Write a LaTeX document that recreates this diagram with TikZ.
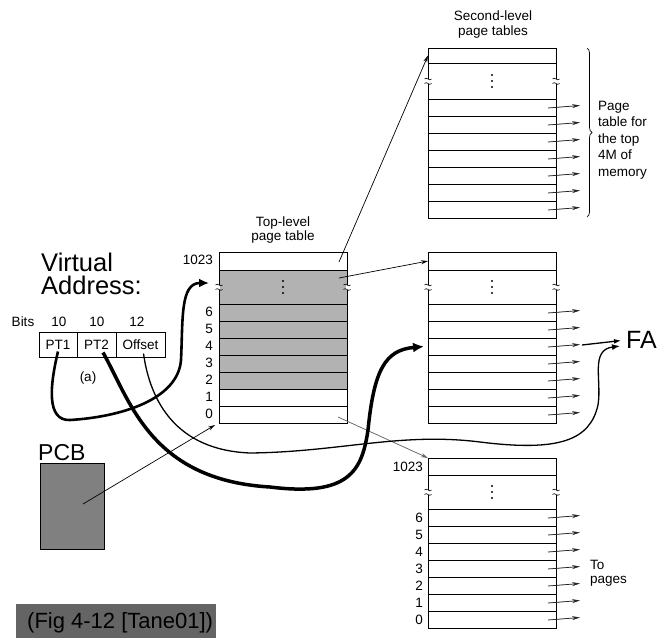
\documentclass[tikz,border=0pt]{standalone}
\usepackage{fontspec}
\setmainfont{Liberation Sans}
\usetikzlibrary{arrows.meta,calc,decorations.pathreplacing}
\definecolor{tgrey}{RGB}{178,178,178}
\definecolor{pcbgrey}{RGB}{128,128,128}
\definecolor{figgrey}{RGB}{100,100,100}
\newcommand\fsz[2]{\fontsize{#1}{#2}\selectfont}
\newcommand\sectable[4]{% #1 name, #2 top y, #3 top row h, #4 dots h
  \node[cell, minimum height=#3pt] (#1-top) at (492,{#2+#3/2}) {};
  \node[cell, minimum height=#4pt] (#1-dots) at (492,{#2+#3+#4/2}) {};
  \foreach \k in {0,...,6} {%
    \pgfmathtruncatemacro\lbl{6-\k}%
    \node[cell, minimum height=17pt] (#1-\lbl) at (492,{#2+#3+#4+8.5+17*\k}) {};
    \draw[rowarrow] ($(#1-\lbl.east)+(-8,0.5)$) -- ($(#1-\lbl.east)+(24,-2)$);
  }
  \foreach \d in {-6,0,6} \fill ($(#1-dots.center)+(0,\d)$) circle (1.1);
  \pic at (#1-dots.west) {brk};
  \pic at (#1-dots.east) {brk};
}
\begin{document}
\begin{tikzpicture}[x=1pt,y=-1pt,
  cell/.style={draw, line width=0.7pt, minimum width=128pt, inner sep=0pt, outer sep=0pt},
  lab/.style={font=\fsz{13.5}{16}, inner sep=0pt},
  rowarrow/.style={-{Stealth[length=8pt,width=4pt]}, line width=0.75pt, draw=black!85, fill=black!85},
  tarrow/.style={-{Stealth[length=7pt,width=4pt]}, line width=0.7pt},
  brk/.pic={
    \fill[white] (-1.2,-2) rectangle (1.2,2.5);
    \draw[line width=0.6pt] (-3.5,-2) .. controls (-1.5,-5) and (1.5,1) .. (3.5,-2);
    \draw[line width=0.6pt] (-3.5,2.5) .. controls (-1.5,-0.5) and (1.5,5.5) .. (3.5,2.5);
  }
]
\useasboundingbox (0,0) rectangle (661,637);

% ---------- top-level page table ----------
\node[cell, minimum height=18pt] (T-top) at (283,261) {};
\node[cell, fill=tgrey, minimum height=34pt] (T-dots) at (283,287) {};
\foreach \i/\y in {6/312.5,5/329.5,4/346.5,3/363.5,2/380.5}
  \node[cell, fill=tgrey, minimum height=17pt] (T-\i) at (283,\y) {};
\foreach \i/\y in {1/397.5,0/414.5}
  \node[cell, minimum height=17pt] (T-\i) at (283,\y) {};
\foreach \d in {-6,0,6} \fill ($(T-dots.center)+(0,\d)$) circle (1.1);
\pic at (T-dots.west) {brk};
\pic at (T-dots.east) {brk};
\node[lab, anchor=east] at ($(T-top.west)+(-6,-1)$) {1023};
\foreach \i in {0,...,6} \node[lab, anchor=east] at ($(T-\i.west)+(-6,-1)$) {\i};
\node[lab, align=center, font=\fsz{13.5}{13.5}] (toplab) at (283,230) {Top-level\\page table};

% ---------- second-level page tables ----------
\sectable{S1}{48}{15}{36}
\sectable{S2}{252}{18}{34}
\sectable{S3}{458}{17}{34}
\node[lab, align=center, font=\fsz{13.5}{15}] (seclab) at (493,25) {Second-level\\page tables};
\draw[decorate, decoration={brace, amplitude=5pt}, line width=0.7pt] (587,48) -- (587,217);
\node[lab, align=left, anchor=west, font=\fsz{13.5}{16.6}] (ptlab) at (598,140) {Page\\table for\\the top\\4M of\\memory};
\node[lab, anchor=east] at ($(S3-top.west)+(-5,0)$) {1023};
\foreach \i in {0,...,6} \node[lab, anchor=east] at ($(S3-\i.west)+(-5,0)$) {\i};
\node[lab, anchor=base west] (topages1) at (590,569) {To};
\node[lab, anchor=base west] (topages2) at (590,583) {pages};

% ---------- virtual address ----------
\node[font=\fsz{25.5}{23}, inner sep=0pt, anchor=base west] (virt) at (41,271) {Virtual};
\node[font=\fsz{25.5}{23}, inner sep=0pt, anchor=base west] (addr) at (41,294) {Address:};
\node[lab, anchor=base] (bits) at (23,326) {Bits};
\node[lab, anchor=base] (b1) at (59,326) {10};
\node[lab, anchor=base] (b2) at (97,326) {10};
\node[lab, anchor=base] (b3) at (137,326) {12};
\node[draw, line width=0.7pt, minimum width=38pt, minimum height=25pt, inner sep=0pt, font=\fsz{13.5}{16}] (PT1) at (58,344.5) {PT1};
\node[draw, line width=0.7pt, minimum width=39pt, minimum height=25pt, inner sep=0pt, font=\fsz{13.5}{16}] (PT2) at (96.5,344.5) {PT2};
\node[draw, line width=0.7pt, minimum width=49pt, minimum height=25pt, inner sep=0pt, font=\fsz{13.5}{16}] (Off) at (140.5,344.5) {Offset};
\node[lab] (alab) at (88,378) {(a)};

% ---------- FA ----------
\node[font=\fsz{25}{25}, inner sep=0pt, anchor=west] (FA) at (626,340) {FA};
\draw[line width=1.3pt, -{Latex[length=7pt,width=5pt]}, shorten >=5pt] ($(S2-4.east)+(26,-1.5)$) -- (FA.west);

% ---------- PCB ----------
\node[font=\fsz{23}{23}, inner sep=0pt, anchor=base west] (pcblab) at (38,460) {PCB};
\node[draw, line width=0.7pt, fill=pcbgrey, minimum width=64pt, minimum height=86pt, inner sep=0pt] (PCB) at (72,506) {};
\draw[tarrow] ($(PCB.center)+(11,-2)$) -- ($(T-0.south west)+(-4,2)$);

% ---------- table to table pointers ----------
\draw[tarrow] ($(T-top.east)+(-8,1)$) -- (S1-top.west);
\draw[tarrow] ($(T-dots.east)+(-8,-9)$) -- (S2-top.west);
\draw[tarrow, draw=black!60, fill=black!60] ($(T-0.east)+(-9,2.5)$) -- (S3-top.north west);

% ---------- curves ----------
\draw[line width=2.6pt, -{Latex[length=10pt,width=9pt]}]
  ($(PT1.center)+(0,7)$) .. controls (50,385) and (46,421) .. (70,420)
  .. controls (120,417) and (178,400) .. (181,360)
  .. controls (183,320) and (180,283) .. ($(T-dots.west)+(-10,-4)$);
\draw[line width=3.5pt, -{Latex[length=11pt,width=10pt]}]
  ($(PT2.center)+(6.5,8)$) .. controls (130,400) and (150,480) .. (270,487)
  .. controls (350,497) and (362,470) .. (368,430)
  .. controls (374,370) and (385,350) .. ($(S2-4.west)+(-4,0)$);
\draw[line width=1.3pt, -{Latex[length=8pt,width=6pt]}]
  ($(Off.center)+(3,9)$) .. controls (150,400) and (175,450) .. (250,453)
  .. controls (340,452) and (400,432) .. (480,442)
  .. controls (560,452) and (590,440) .. (598,405)
  .. controls (602,380) and (590,350) .. ($(FA.west)+(-6,6)$);

% ---------- figure caption ----------
\node[fill=figgrey, anchor=north west, minimum width=200pt, minimum height=34pt, inner sep=0pt] (figbox) at (16,604) {};
\node[font=\fsz{22}{22}, inner sep=0pt, anchor=base west] (figlab) at (27,628) {(Fig 4-12 [Tane01])};
\end{tikzpicture}
\end{document}
